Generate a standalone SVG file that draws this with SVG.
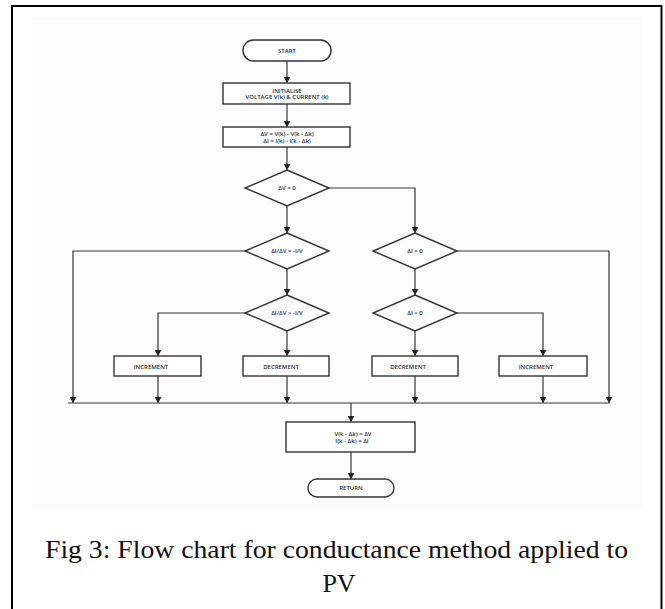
<svg xmlns="http://www.w3.org/2000/svg" width="665" height="609" viewBox="0 0 665 609">
<defs>
<marker id="ah" viewBox="0 0 6 7" refX="6" refY="3.5" markerWidth="6" markerHeight="7" markerUnits="userSpaceOnUse" orient="auto">
<path d="M0,0 L6,3.5 L0,7 z" fill="#222"/>
</marker>
<style>
.shape{fill:#fff;stroke:#333;stroke-width:1.4}
.ln{fill:none;stroke:#333;stroke-width:1.2}
.arr{fill:none;stroke:#333;stroke-width:1.2;marker-end:url(#ah)}
.t{font-family:"Open Sans","DejaVu Sans",sans-serif;font-size:6px;font-weight:600;fill:#2a2a40;text-anchor:middle}
.cap{font-family:"Liberation Serif","DejaVu Serif",serif;font-size:26px;fill:#111;text-anchor:middle}
</style>
</defs>
<rect x="0" y="0" width="665" height="609" fill="#fff"/>
<rect x="32" y="17" width="611" height="493" fill="#fcfcfc"/>
<rect x="12" y="6" width="649.5" height="610" fill="none" stroke="#000" stroke-width="2"/>

<g id="connectors">
<path class="arr" d="M287,61 V83"/>
<path class="arr" d="M287,104 V127"/>
<path class="arr" d="M287,147 V170"/>
<path class="arr" d="M287,206 V233"/>
<path class="arr" d="M329,188 H415 V233"/>
<path class="arr" d="M245,251 H73 V403"/>
<path class="arr" d="M457,251 H609 V403"/>
<path class="arr" d="M287,269 V295"/>
<path class="arr" d="M415,269 V295"/>
<path class="arr" d="M245,313 H158 V356"/>
<path class="arr" d="M287,331 V356"/>
<path class="arr" d="M415,331 V356"/>
<path class="arr" d="M457,313 H543 V356"/>
<path class="arr" d="M158,376 V403"/>
<path class="arr" d="M287,376 V403"/>
<path class="arr" d="M415,376 V403"/>
<path class="arr" d="M543,376 V403"/>
<path class="ln" d="M68,403 H610"/>
<path class="arr" d="M351,403 V422"/>
<path class="arr" d="M351,452 V479"/>
</g>

<g id="start">
<rect class="shape" x="243" y="40" width="88" height="21" rx="10.5"/>
<text class="t" x="287" y="52.5">START</text>
</g>
<g id="initialise">
<rect class="shape" x="223" y="83" width="127" height="21"/>
<text class="t" x="287" y="92.5">INITIALISE</text>
<text class="t" x="287" y="99">VOLTAGE V(k) &amp; CURRENT (k)</text>
</g>
<g id="delta">
<rect class="shape" x="223" y="127" width="127" height="20"/>
<text class="t" x="287" y="136">ΔV = V(k) - V(k - Δk)</text>
<text class="t" x="287" y="142.5">ΔI = I(k) - I(k - Δk)</text>
</g>
<g id="d-dv0">
<path class="shape" d="M287,170 L329,188 L287,206 L245,188 z"/>
<text class="t" x="287" y="190">ΔV = 0</text>
</g>
<g id="d-eq">
<path class="shape" d="M287,233 L329,251 L287,269 L245,251 z"/>
<text class="t" x="287" y="253">ΔI/ΔV = -I/V</text>
</g>
<g id="d-di0">
<path class="shape" d="M415,233 L457,251 L415,269 L373,251 z"/>
<text class="t" x="415" y="253">ΔI = 0</text>
</g>
<g id="d-gt">
<path class="shape" d="M287,295 L329,313 L287,331 L245,313 z"/>
<text class="t" x="287" y="315">ΔI/ΔV &gt; -I/V</text>
</g>
<g id="d-digt">
<path class="shape" d="M415,295 L457,313 L415,331 L373,313 z"/>
<text class="t" x="415" y="315">ΔI &gt; 0</text>
</g>
<g id="inc1">
<rect class="shape" x="114" y="356" width="87" height="20"/>
<text class="t" x="151" y="368.5">INCREMENT</text>
</g>
<g id="dec1">
<rect class="shape" x="243" y="356" width="86" height="20"/>
<text class="t" x="281" y="368.5">DECREMENT</text>
</g>
<g id="dec2">
<rect class="shape" x="372" y="356" width="86" height="20"/>
<text class="t" x="408" y="368.5">DECREMENT</text>
</g>
<g id="inc2">
<rect class="shape" x="499" y="356" width="88" height="20"/>
<text class="t" x="536" y="368.5">INCREMENT</text>
</g>
<g id="update">
<rect class="shape" x="286" y="422" width="129" height="30"/>
<text class="t" x="353" y="436">V(k - Δk) = ΔV</text>
<text class="t" x="352" y="442.5">I(k - Δk) = ΔI</text>
</g>
<g id="return">
<rect class="shape" x="308" y="479" width="86" height="18" rx="9"/>
<text class="t" x="351" y="490">RETURN</text>
</g>

<text class="cap" x="336.5" y="558" textLength="583" lengthAdjust="spacingAndGlyphs">Fig 3: Flow chart for conductance method applied to</text>
<text class="cap" x="339" y="591.5">PV</text>
</svg>
